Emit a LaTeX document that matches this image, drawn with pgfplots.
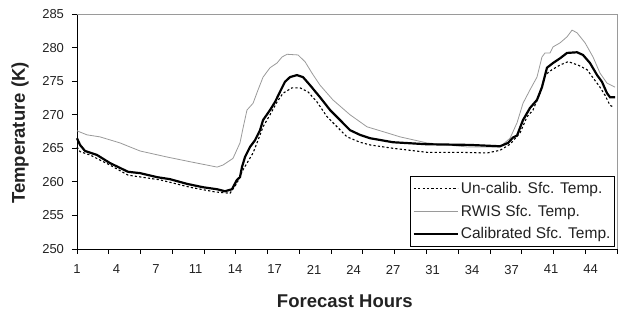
\documentclass[border=0pt]{standalone}
\usepackage{pgfplots}
\pgfplotsset{compat=1.18}
\usepackage{fontspec}
\setmainfont{Liberation Sans}
\definecolor{rwis}{HTML}{9A9A9A}
\definecolor{txt}{HTML}{222222}
\pgfplotsset{legend image code/.code={\draw[#1] (0pt,0pt) -- (44pt,0pt);}}
\begin{document}
\begin{tikzpicture}
\path[use as bounding box] (-77pt,-63pt) rectangle (541pt,249pt);
\begin{axis}[
  at={(0pt,0pt)}, anchor=south west,
  scale only axis, width=540pt, height=235pt,
  xmin=1, xmax=47.35, ymin=250, ymax=285,
  axis lines*=left,
  axis line style={-, black, line width=0.9pt},
  tick align=outside,
  major tick length=5pt,
  tick style={black, line width=0.8pt},
  ytick={250,255,...,285},
  xtick={1,3.7265,6.453,9.1795,11.906,14.6325,17.359,20.0855,22.812,25.5385,28.265,30.9915,33.718,36.4445,39.171,41.8975,44.624,47.35},
  xticklabels={},
  extra x ticks={1,4.3906,7.7812,11.1718,14.5624,17.953,21.3436,24.7342,28.1248,31.5154,34.906,38.2966,41.6872,45.0778},
  extra x tick labels={1,4,7,11,14,17,21,24,27,31,34,37,41,44},
  extra x tick style={major tick length=0pt},
  /pgf/number format/assume math mode=true,
  ticklabel style={font=\fontsize{13}{15}\selectfont, text=txt},
  yticklabel style={xshift=-4.5pt},
  xticklabel style={yshift=-12.5pt},
  xlabel={Forecast Hours},
  ylabel={Temperature (K)},
  xlabel style={font=\fontsize{18.5}{21}\selectfont\bfseries, text=txt, at={(axis description cs:0.496,-0.251)}, anchor=base},
  ylabel style={font=\fontsize{18.5}{21}\selectfont\bfseries, text=txt, at={(axis description cs:-0.1056,0.4936)}, anchor=center},
  legend style={font=\fontsize{15.5}{18}\selectfont, text=txt, draw=black, line width=0.8pt,
    at={(axis description cs:0.996,0.009)}, anchor=south east,
    inner xsep=2pt, inner ysep=4pt, row sep=6pt},
  legend cell align=left,
  clip=false,
]
\addplot[black, line width=1.1pt, dash pattern=on 2.2pt off 2.2pt] coordinates {
(1.00,265.2) (1.26,264.5) (2.12,264.0) (3.83,262.5) (5.38,261.0) (8.12,260.3)
(10.70,259.2) (12.85,258.5) (14.13,258.3) (14.73,259.8) (15.25,261.8) (16.11,264.3)
(16.54,266.2) (16.97,268.2) (17.57,270.0) (18.17,271.9) (18.68,273.2) (19.45,274.0)
(20.14,274.0) (20.83,273.4) (21.60,271.9) (22.46,269.7) (23.32,268.2) (24.18,266.7)
(25.29,265.9) (26.15,265.5) (28.12,265.0) (31.04,264.4) (33.88,264.4) (36.19,264.3)
(37.31,264.7) (38.17,265.6) (39.03,267.3) (39.63,269.7) (40.14,270.7) (40.74,273.2)
(41.17,275.9) (41.77,276.7) (42.46,277.4) (43.15,277.9) (44.00,277.4) (44.78,276.7)
(45.29,275.5) (45.89,274.1) (46.32,272.9) (46.75,271.4) (47.10,271.1)
};
\addlegendentry{Un-calib. Sfc. Temp.}
\addplot[rwis, line width=0.8pt] coordinates {
(1.00,267.6) (1.86,267.0) (2.97,266.7) (4.69,265.8) (6.41,264.6) (8.73,263.7)
(10.70,263.0) (13.02,262.2) (13.53,262.5) (14.39,263.5) (14.99,265.8) (15.25,268.0)
(15.59,270.7) (16.11,271.7) (16.54,273.7) (16.97,275.6) (17.57,277.0) (18.17,277.7)
(18.60,278.6) (19.03,279.0) (19.97,278.9) (20.57,277.9) (21.17,276.2) (21.86,274.4)
(22.97,272.2) (24.43,270.0) (25.89,268.2) (27.61,267.3) (28.73,266.7) (31.04,265.8)
(34.48,265.2) (37.31,265.2) (38.17,266.5) (38.77,268.8) (39.28,271.7) (39.88,273.7)
(40.48,275.6) (40.91,278.6) (41.17,279.2) (41.60,279.2) (41.86,280.1) (42.46,280.7)
(43.06,281.6) (43.49,282.6) (43.92,282.2) (44.61,280.7) (45.29,278.6) (45.89,276.2)
(46.49,274.7) (47.18,274.1)
};
\addlegendentry{RWIS Sfc. Temp.}
\addplot[black, line width=2.2pt] coordinates {
(1.00,266.5) (1.26,265.5) (1.69,264.6) (2.72,264.0) (3.83,262.8) (5.38,261.5)
(6.41,261.3) (7.87,260.7) (8.98,260.4) (10.44,259.7) (11.82,259.2) (13.02,258.9)
(13.70,258.6) (14.30,258.9) (14.73,260.3) (14.99,260.7) (15.16,262.2) (15.42,263.7)
(15.85,265.2) (16.28,266.2) (16.71,267.7) (16.97,269.2) (17.57,270.7) (18.00,271.9)
(18.42,273.4) (18.85,274.9) (19.28,275.6) (19.88,275.9) (20.40,275.6) (21.00,274.4)
(21.86,272.6) (22.72,270.7) (23.58,269.2) (24.43,267.7) (25.29,267.0) (26.15,266.5)
(28.12,265.9) (31.04,265.6) (34.73,265.5) (37.31,265.3) (38.00,265.8) (38.42,266.6)
(38.77,266.9) (39.28,269.2) (39.88,271.0) (40.48,272.2) (40.91,274.1) (41.34,277.0)
(41.86,277.7) (42.46,278.4) (43.06,279.2) (43.92,279.3) (44.43,278.9) (45.03,277.7)
(45.64,275.9) (46.06,274.9) (46.49,273.2) (46.75,272.6) (47.18,272.6)
};
\addlegendentry{Calibrated Sfc. Temp.}
\draw[rwis, line width=0.8pt] (rel axis cs:0,1) -- (rel axis cs:1,1) -- (rel axis cs:1,0);
\end{axis}
\end{tikzpicture}
\end{document}
